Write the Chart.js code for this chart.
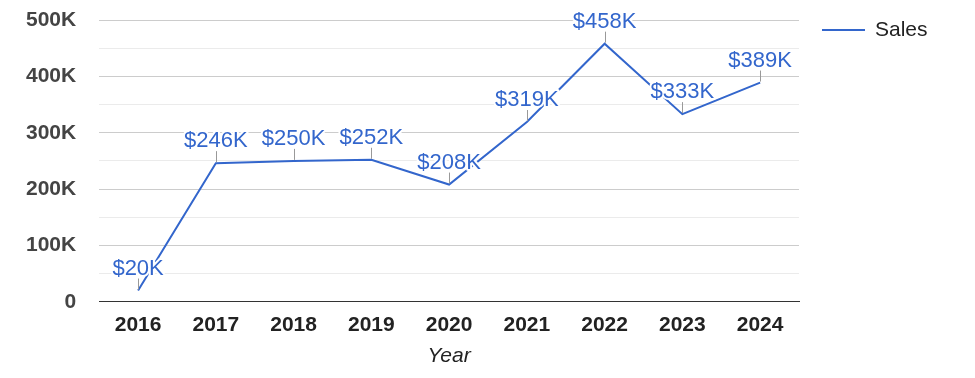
<!DOCTYPE html>
<html>
<head>
<meta charset="utf-8">
<script src="https://cdn.jsdelivr.net/npm/chart.js@4"></script>
<style>
  html, body { margin: 0; padding: 0; background: #fff; }
  #wrap { width: 975px; height: 378px; position: relative; }
</style>
</head>
<body>
<div id="wrap"><canvas id="salesChart"></canvas></div>
<script>
// Chart data
const years = ['2016', '2017', '2018', '2019', '2020', '2021', '2022', '2023', '2024'];
const sales = [20000, 246000, 250000, 252000, 208000, 319000, 458000, 333000, 389000];
const seriesName = 'Sales';
const axisTitle = 'Year';

const FONT = "'Liberation Sans', Arial, sans-serif";
const BLUE = '#3366cc';

// Short money label, e.g. $246K
function moneyLabel(v) {
  return '$' + Math.round(v / 1000) + 'K';
}

// Labels above each point with a small leader line
const pointLabels = {
  id: 'pointLabels',
  afterDatasetsDraw(chart) {
    const ctx = chart.ctx;
    const meta = chart.getDatasetMeta(0);
    ctx.save();
    meta.data.forEach((pt, i) => {
      ctx.strokeStyle = '#999';
      ctx.lineWidth = 1;
      ctx.beginPath();
      ctx.moveTo(Math.round(pt.x) + 0.5, pt.y - 1);
      ctx.lineTo(Math.round(pt.x) + 0.5, pt.y - 12);
      ctx.stroke();

      const text = moneyLabel(chart.data.datasets[0].data[i]);
      ctx.font = '22px ' + FONT;
      ctx.textAlign = 'center';
      ctx.textBaseline = 'alphabetic';
      ctx.lineJoin = 'round';
      ctx.strokeStyle = '#fff';
      ctx.lineWidth = 4;
      ctx.strokeText(text, pt.x, pt.y - 16);
      ctx.fillStyle = BLUE;
      ctx.fillText(text, pt.x, pt.y - 16);
    });
    ctx.restore();
  }
};

// Legend at the top right
const sideLegend = {
  id: 'sideLegend',
  afterDraw(chart) {
    const ctx = chart.ctx;
    const y = 30;
    ctx.save();
    ctx.strokeStyle = BLUE;
    ctx.lineWidth = 2;
    ctx.beginPath();
    ctx.moveTo(822, y);
    ctx.lineTo(865, y);
    ctx.stroke();
    ctx.font = '21px ' + FONT;
    ctx.fillStyle = '#222';
    ctx.textAlign = 'left';
    ctx.textBaseline = 'middle';
    ctx.fillText(chart.data.datasets[0].label, 875, y);
    ctx.restore();
  }
};

new Chart(document.getElementById('salesChart'), {
  type: 'line',
  data: {
    labels: years,
    datasets: [{
      label: seriesName,
      data: sales,
      borderColor: BLUE,
      borderWidth: 2,
      tension: 0,
      pointRadius: 0,
      pointHoverRadius: 0,
      fill: false
    }]
  },
  options: {
    responsive: true,
    maintainAspectRatio: false,
    animation: false,
    layout: { padding: { top: 0, left: 3, right: 176, bottom: 11 } },
    plugins: {
      legend: { display: false },
      tooltip: { enabled: false }
    },
    scales: {
      x: {
        offset: true,
        grid: { display: false, drawTicks: false },
        border: { display: true, color: '#333', width: 1 },
        ticks: {
          padding: 11,
          color: '#222',
          font: { family: FONT, size: 21, weight: 'bold' }
        },
        title: {
          display: true,
          text: axisTitle,
          color: '#222',
          padding: { top: -3, bottom: 0 },
          font: { family: FONT, size: 21, style: 'italic', lineHeight: 1 }
        }
      },
      y: {
        min: 0,
        max: 500000,
        // tick padding is horizontal only here
        afterFit: scale => {
          scale.paddingTop = 20;
          scale.paddingBottom = 13;
        },
        grid: {
          drawTicks: false,
          color: ctx => {
            const v = ctx.tick.value;
            if (v === 0) return '#333';
            return v % 100000 === 0 ? '#cccccc' : '#ebebeb';
          }
        },
        border: { display: false },
        ticks: {
          stepSize: 50000,
          autoSkip: false,
          padding: 23,
          color: '#444',
          font: { family: FONT, size: 21, weight: 'bold' },
          callback: v => {
            if (v === 0) return '0';
            return v % 100000 === 0 ? (v / 1000) + 'K' : '';
          }
        }
      }
    }
  },
  plugins: [pointLabels, sideLegend]
});
</script>
</body>
</html>
